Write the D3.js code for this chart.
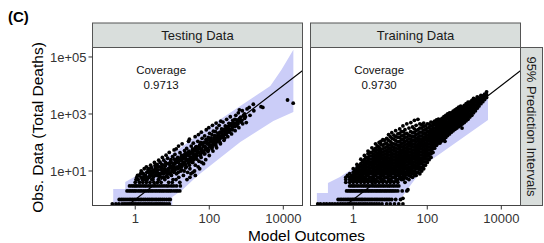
<!DOCTYPE html>
<html>
<head>
<meta charset="utf-8">
<script src="https://cdn.jsdelivr.net/npm/d3@7"></script>
<style>
body { margin: 0; background: #fff; }
svg { font-family: "Liberation Sans", Arial, sans-serif; }
</style>
</head>
<body>
<svg width="544" height="243"></svg>
<script>
// Panels and labels
var panels = ["Testing Data", "Training Data"];
var coverage = ["0.9713", "0.9730"];
var xTicks = [1, 100, 10000];
var xTickLabels = ["1", "100", "10000"];
var yTicks = [10, 1000, 100000];
var yTickLabels = ["1e+01", "1e+03", "1e+05"];

// Testing data: [model, observed]
var testCloud = [
[1,4],[1.1,6],
[1.3,4],[1.2,5],[1.4,8],
[1.6,4],[1.7,6],[1.5,9],[1.8,5],
[2,4],[2.1,5],[1.9,7],[2.2,11],[2,14],
[2.5,4],[2.4,6],[2.7,8],[2.3,12],[2.6,16],[2.8,5],
[3.2,4],[3,5],[3.4,7],[3.1,9],[3.5,14],[3.3,20],
[4,4],[4.2,5],[3.8,7],[4.4,8],[4.1,11],[3.9,17],[4.3,24],
[5,4],[5.3,6],[4.8,8],[5.5,10],[5.1,13],[4.7,20],[5.4,30],
[6.3,5],[6,6],[6.7,9],[6.1,12],[6.5,15],[5.9,24],[6.8,36],
[8,4],[7.6,6],[8.4,8],[7.8,10],[8.6,13],[8.1,18],[7.5,28],[8.3,45],
[10,4],[10.5,5],[9.5,7],[11,9],[9.8,12],[10.7,15],[9.3,20],[10.2,32],[11.2,55],
[12.6,5],[13,8],[12,11],[13.5,14],[12.3,19],[13.2,25],[11.8,38],[12.8,60],
[16,4],[15,6],[17,10],[15.5,13],[16.5,17],[15.2,22],[17.3,30],[16.2,44],[14.8,75],
[20,7],[21,10],[19,16],[22,21],[19.5,28],[20.5,36],[21.5,52],[18.5,90],
[25,5],[26,9],[24,14],[27,19],[25.5,25],[23.5,33],[26.5,45],[24.5,62],[27.5,110],
[32,8],[30,12],[34,20],[31,24],[33,30],[30.5,40],[35,55],[32.5,75],[29,130],
[40,10],[42,16],[38,25],[41,30],[44,38],[39,50],[43,68],[37,95],[41.5,160],
[50,14],[53,22],[47,35],[52,46],[48,60],[55,80],[49,110],[51,190],
[63,20],[60,30],[66,45],[62,58],[68,75],[59,100],[64,140],[61,230],
[80,25],[76,40],[84,55],[78,70],[86,95],[81,125],[75,170],[83,280],
[100,35],[95,55],[105,70],[98,90],[108,115],[94,150],[102,210],[97,330],
[126,50],[120,70],[132,85],[124,110],[135,145],[118,190],[129,250],[122,400],
[158,65],[150,90],[165,110],[155,140],[170,180],[148,240],[160,320],[153,480],
[200,90],[190,130],[210,170],[195,230],[215,300],[185,400],[205,560],
[250,120],[240,170],[265,220],[245,290],[270,380],[235,520],
[316,160],[300,220],[330,280],[310,360],[340,470],[295,650],
[400,200],[380,280],[420,350],[390,460],[430,600],[370,800],
[500,260],[480,360],[530,480],[490,650],[520,900],
[630,330],[600,450],[660,700],[610,1100],[650,1400],
[800,450],[760,600],[840,900],[780,1300],
[1000,500],[950,800],[1050,1500],
[1260,900],[1200,1700],
[1600,1300],[1550,2200],
[2500,1800],[2800,1700],
[13000,3100],[18500,2400],
[42,7],[36,9],[30,6],[55,12],[70,18]
];
// denser core of the testing cloud
var testCore = [
[1.15,5],[1.45,6],[1.75,7],[2.3,9],[2.9,10],[3.6,12],[4.5,14],[5.7,16],[7.1,18],[9,22],[11.3,26],[14.2,30],
[17.9,35],[22.5,42],[28.3,50],[35.6,60],[44.8,72],[56.4,85],[71,100],[89,120],[112,145],[141,175],[178,210],
[224,260],[282,320],[355,400],[447,500],[562,620],[708,780],[891,1000],
[1.15,7],[1.45,10],[1.75,12],[2.3,6],[2.9,7],[3.6,9],[4.5,6],[5.7,9],[7.1,11],[9,14],[11.3,17],[14.2,20],
[17.9,24],[22.5,28],[28.3,34],[35.6,42],[44.8,52],[56.4,62],[71,75],[89,90],[112,105],[141,130],[178,160],
[224,200],[282,250],[355,300],[447,380],[562,450],
[5.7,6],[7.1,7],[9,8],[11.3,10],[14.2,12],[17.9,14],[22.5,17],[28.3,21],[35.6,27],[44.8,33],[56.4,40],
[71,50],[89,62],[112,78],[141,100],[178,125],[224,150],[282,190],
[1.05,5],[1.25,7],[1.55,5],[1.65,8],[1.95,6],[2.05,9],[2.45,7],[2.55,10],[2.75,13],[3.05,6],[3.25,11],[3.45,16],
[3.7,8],[3.9,10],[4.1,14],[4.6,7],[4.9,11],[5.2,17],[5.8,8],[6.2,10],[6.6,20],[7.3,9],[7.9,12],[8.8,16],[9.2,25],
[9.7,10],[10.8,18],[11.5,13],[12.2,22],[13.8,28],[14.5,9],[15.8,16],[16.8,25],[18,11],[19.5,20],[21,30],[23,13],
[24.5,24],[26,38],[29,16],[31,28],[33,45],[36,20],[39,35],[42,58],[46,26],[49,45],[54,70],[58,35],[62,50],[67,90],
[73,40],[78,60],[85,110],[92,48],[100,80],[110,130],[118,60],[128,95],[138,160],[152,75],[162,120],[175,210],
[195,100],[210,150],[230,260],[260,140],[280,200],[300,330],[350,230],[420,280],[460,420],[560,380],[620,560],
[720,520],[900,700]
];
// rows of low observed counts (model values)
var testRow3 = [0.7,0.8,0.9,1,1.1,1.25,1.4,1.6,1.8,2,2.3,2.6,3,3.4,3.9,4.5,5.2,6,7,8,9.5,11,13,16.5];
var testRow2 = [0.6,0.68,0.76,0.85,0.95,1.05,1.2,1.35,1.5,1.7,1.9,2.15,2.4,2.7,3,3.4,3.8,4.3,4.8,5.4,6,6.8,7.6,8.5,9.5,11,12.5,14,16];
var testRow1 = [0.37,0.42,0.47,0.53,0.6,0.68,0.76,0.85,0.95,1.05,1.2,1.35,1.5,1.7,1.9,2.15,2.4,2.7,3,3.4,3.8,4.3,4.8,5.4,6.1,7,8,8.8];
var testRow0 = [0.24,0.3,0.36,0.44,0.5,0.56,0.63,0.7,0.8,0.9,1,1.12,1.25,1.4,1.6,1.8,2,2.25,2.5,2.8,3.2,3.6,4,4.5,5,5.6,6.3,7.2,8.3];

// Training data: [model, [observed...]]
var trainCols = [
[0.63,[4,5,6]],
[0.8,[4,5,6,8]],
[1,[4,5,6,7,9,12]],
[1.26,[4,5,6,8,10,13,17]],
[1.6,[4,5,6,7,9,11,14,18,26]],
[2,[4,5,6,8,10,12,15,19,25,35]],
[2.5,[4,5,7,9,11,14,18,23,30,40,50]],
[3.2,[4,5,6,8,10,13,16,20,26,34,45,65]],
[4,[4,5,7,9,11,14,18,23,29,37,48,62,90]],
[5,[4,6,8,10,12,15,19,24,31,40,52,68,100]],
[6.3,[4,5,7,9,11,14,17,22,28,36,46,60,80,125]],
[8,[4,6,8,10,13,16,20,25,32,41,53,70,95,140]],
[10,[4,5,7,9,11,14,18,23,29,37,48,62,82,110,160]],
[12.6,[4,6,8,10,12,15,19,24,31,40,52,68,90,130,180]],
[16,[4,5,7,9,11,14,17,22,28,36,46,60,78,105,150,200]],
[20,[5,6,8,10,13,16,20,25,32,41,53,70,92,125,170,240]],
[25,[4,6,7,9,12,15,19,24,30,38,49,63,82,110,150,200,280]],
[32,[5,7,9,11,14,18,23,29,37,47,60,78,100,135,180,320]],
[40,[6,8,10,13,16,20,26,33,42,54,70,90,120,160,220,350]],
[50,[7,9,12,15,19,24,30,38,48,62,80,105,140,190,260,400]],
[63,[8,11,14,18,23,29,37,47,60,77,100,130,170,230,320,450]],
[80,[12,16,21,27,34,43,55,70,90,115,150,200,270,370,480]],
[100,[20,26,33,42,53,67,85,110,140,180,240,320,450]],
[126,[30,40,52,66,84,105,135,175,225,290,380,520]],
[158,[63,80,100,125,160,200,250,320,420,560]],
[200,[96,120,150,185,230,290,360,450,560,660]],
[250,[115,145,180,225,280,350,440,550,700]],
[316,[150,190,240,300,370,460,580,730,900]],
[400,[200,250,310,390,490,610,760,950,1100]],
[500,[260,320,400,500,630,790,1000,1250]],
[630,[320,400,500,630,800,1000,1250,1550]],
[800,[400,500,630,800,1000,1250,1550,1900]],
[1000,[500,630,800,1000,1250,1600,2000]],
[1260,[650,820,1030,1300,1650,2100,2600]],
[1600,[900,1150,1450,1850,2350,3000]],
[2000,[1300,1650,2100,2650,3300]],
[2500,[1900,2400,3000,3700]],
[3160,[2700,3400,4300]],
[4000,[3800,4800,6000]]
];
// in-between columns of the training cloud
var trainMid = [
[0.9,[4.5,5.5,7]],
[1.12,[4.5,5.5,7,8,11]],
[1.42,[4.5,5.5,7,9,11.5,15]],
[1.8,[4.5,5.5,6.5,8,10,12.5,16,21]],
[2.24,[4.5,5.5,7,9,11,13.5,17,22,29]],
[2.8,[4.5,6,8,10,12.5,16,20,26,34,44]],
[3.55,[4.5,5.5,7,9,11.5,14.5,18,23,30,39,52]],
[4.5,[4.5,6,8,10,12.5,16,20.5,26,33,42,55,75]],
[5.6,[4.5,5.5,7,9,11,13,17,21,27,35,45,58,85]],
[7.1,[4.5,6,8,10,12,15,19,24,30,39,50,65,90]],
[8.9,[4.5,5.5,7,9,11.5,14.5,18,22.5,29,37,47,61,80,120]],
[11.2,[4.5,6,8,10,12.5,16,20,26,33,42,55,72,95,140]],
[14.1,[4.5,5.5,7,9,11.5,14.5,18.5,23.5,30,38,49,63,85,115,160]],
[17.8,[5.5,7,9,11.5,14.5,18.5,23.5,30,38,48,62,80,110,150,210]],
[22.4,[5,6.5,8,10.5,13.5,17,21.5,27,34,44,56,72,96,130,175,240]],
[28.2,[5.5,7.5,10,12.5,16,20.5,26,33,42,53,68,88,115,155,210]],
[35.5,[6.5,8.5,11,14,18,23,29,37,47,60,77,100,130,170,240]],
[44.7,[7.5,10,13,16.5,21,27,34,43,55,70,90,120,160,220,300]],
[56.2,[9,12,15.5,20,25.5,32.5,42,53,68,88,115,150,200,280]],
[70.8,[10,13.5,18,23,29,37,47,60,78,100,130,170,230,320,420]],
[89,[16,21,27,35,45,58,75,95,125,160,210,280,380]],
[112,[25,33,42,55,70,90,115,150,195,250,330,440]],
[141,[45,60,75,95,120,150,190,240,310,400,500]],
[178,[80,100,125,155,195,245,310,390,490,620]],
[224,[105,130,160,200,250,310,390,490,620]],
[282,[130,165,205,255,320,400,500,640,800]],
[355,[175,220,275,340,430,530,670,840,1000]],
[447,[230,285,355,445,560,700,880,1100]],
[562,[290,360,450,565,710,890,1120,1400]],
[708,[360,450,565,710,900,1120,1400,1750]],
[891,[450,565,710,900,1120,1400,1750]],
[1122,[580,730,920,1150,1450,1850,2300]],
[1413,[780,980,1250,1600,2000,2600]],
[1778,[1100,1400,1750,2200,2800,3500]],
[2239,[1600,2000,2500,3200,4000]],
[2818,[2300,2900,3600,4500]],
[3548,[3200,4000,5000]]
];
var trainExtra = [
[0.7,7],[1.1,10],[1.4,15],[1.8,22],[2.2,30],[2.8,45],[3.6,55],[4.5,75],[5.6,110],[7,120],
[9,190],[11,220],[14,260],[18,300],[22,380],[28,450],[36,500],[45,600],[56,650],
[870,320],[220,96],[52,14],[34,11],[47,7],[30,2.2],[22,1.1],[60,12],[140,45],[300,110]
];
var trainRow3 = [0.8,0.9,1,1.1,1.25,1.4,1.6,1.8,2,2.25,2.5,2.8,3.2,3.6,4,4.5,5,5.6,6.3,7,8,9,10,11.5,13,15,17];
var trainRow2 = [0.66,0.74,0.82,0.9,1,1.1,1.22,1.35,1.5,1.65,1.8,2,2.2,2.45,2.7,3,3.3,3.7,4.1,4.5,5,5.5,6.1,6.8,7.5,8.3,9.2,10.2,11.3,12.5,14,16,21,28];
var trainRow1 = [0.39,0.44,0.49,0.55,0.61,0.68,0.75,0.83,0.92,1,1.1,1.22,1.35,1.5,1.65,1.8,2,2.2,2.45,2.7,3,3.3,3.7,4.1,4.5,5,5.6,6.2,7,7.8,8.7,9.7,11,14,19];
var trainRow0 = [0.11,0.13,0.16,0.19,0.23,0.27,0.32,0.38,0.45,0.52,0.6,0.7,0.8,0.92,1.05,1.2,1.4,1.6,1.85,2.1,2.4,2.8,3.2,3.7,4.3,5,6,8,10,13,17,22];

// 95% prediction interval outlines [model, observed]
var testBandUpper = [[0.254,0.5],[0.254,2.33],[0.537,2.33],[0.537,4.1],[2.54,12.7],[16.4,64],[128,446],[4450,9600],[8830,34700],[18700,178000]];
var testBandLower = [[18700,1175],[5370,568],[690,104],[47,6.7],[18.6,2.15],[10,1.22],[10,0.5]];
var trainBandUpper = [[0.104,0.5],[0.104,1.69],[0.207,1.69],[0.207,3.8],[0.437,6.2],[2.07,24],[9.8,82],[143,411],[4370,6950]];
var trainBandLower = [[4370,616],[98,19.1],[28.4,2.15],[18.3,0.96],[16,0.5]];

var W = 210, H = 158;
var panelX = [92.5, 310.5], panelY = 47.5;

var x = d3.scaleLog().domain([0.07, 33000]).range([0, W]);
var y = d3.scaleLog().domain([0.616, 215000]).range([H, 0]);

function rowPts(xs, obs) {
	return xs.map(function(v) { return [v, obs]; });
}
function colPts(cols) {
	var out = [];
	cols.forEach(function(c) {
		c[1].forEach(function(o) { out.push([c[0], o]); });
	});
	return out;
}

var testPts = testCloud.concat(testCore, rowPts(testRow3, 3), rowPts(testRow2, 2), rowPts(testRow1, 1), rowPts(testRow0, 0.7));
var trainPts = colPts(trainCols).concat(colPts(trainMid), trainExtra, rowPts(trainRow3, 3), rowPts(trainRow2, 2), rowPts(trainRow1, 1), rowPts(trainRow0, 0.7));
var allPts = [testPts, trainPts];
var bands = [testBandUpper.concat(testBandLower), trainBandUpper.concat(trainBandLower)];

var line = d3.line()
	.x(function(d) { return x(d[0]); })
	.y(function(d) { return y(d[1]); });

var svg = d3.select("svg");
var defs = svg.append("defs");
defs.append("clipPath").attr("id", "clip")
	.append("rect").attr("width", W).attr("height", H);

panels.forEach(function(name, i) {
	var g = svg.append("g").attr("transform", "translate(" + panelX[i] + "," + panelY + ")");
	var inner = g.append("g").attr("clip-path", "url(#clip)");

	inner.append("path")
		.attr("d", line(bands[i]) + "Z")
		.attr("fill", "#cbcdf8");

	inner.append("path")
		.attr("d", line([[0.05, 0.05], [50000, 50000]]))
		.attr("stroke", "#000")
		.attr("stroke-width", 1.2)
		.attr("fill", "none");

	inner.selectAll("circle")
		.data(allPts[i])
		.enter()
		.append("circle")
		.attr("cx", function(d) { return x(d[0]); })
		.attr("cy", function(d) { return y(d[1]); })
		.attr("r", 1.9)
		.attr("fill", "#000");

	// coverage label
	var t = g.append("text")
		.attr("text-anchor", "middle")
		.attr("font-size", "11.5px")
		.attr("fill", "#111");
	t.append("tspan").attr("x", x(5)).attr("y", y(20000) - 3).text("Coverage");
	t.append("tspan").attr("x", x(5)).attr("y", y(20000) + 12).text(coverage[i]);

	g.append("rect")
		.attr("width", W).attr("height", H)
		.attr("fill", "none")
		.attr("stroke", "#444")
		.attr("stroke-width", 1);

	// strip
	g.append("rect")
		.attr("y", -24.5).attr("width", W).attr("height", 24.5)
		.attr("fill", "#d9dedc")
		.attr("stroke", "#555")
		.attr("stroke-width", 1);
	g.append("text")
		.attr("x", W / 2).attr("y", -12.25).attr("dy", "0.35em")
		.attr("text-anchor", "middle")
		.attr("font-size", "13px")
		.attr("fill", "#1a1a1a")
		.text(name);

	// x axis
	var xt = g.selectAll(".xt").data(xTicks).enter().append("g")
		.attr("transform", function(d) { return "translate(" + x(d) + "," + H + ")"; });
	xt.append("line").attr("y2", 4).attr("stroke", "#333");
	xt.append("text")
		.attr("y", 17.5)
		.attr("text-anchor", "middle")
		.attr("font-size", "13px")
		.attr("fill", "#333")
		.text(function(d, j) { return xTickLabels[j]; });

	if (i === 0) {
		var yt = g.selectAll(".yt").data(yTicks).enter().append("g")
			.attr("transform", function(d) { return "translate(0," + y(d) + ")"; });
		yt.append("line").attr("x2", -4).attr("stroke", "#333");
		yt.append("text")
			.attr("x", -6).attr("dy", "0.35em")
			.attr("text-anchor", "end")
			.attr("font-size", "13px")
			.attr("fill", "#333")
			.text(function(d, j) { return yTickLabels[j]; });
	}
});

// right strip
svg.append("rect")
	.attr("x", 520.5).attr("y", panelY).attr("width", 22).attr("height", H)
	.attr("fill", "#d9dedc")
	.attr("stroke", "#555")
	.attr("stroke-width", 1);
svg.append("text")
	.attr("transform", "translate(531.5," + (panelY + H / 2) + ") rotate(90)")
	.attr("dy", "0.35em")
	.attr("text-anchor", "middle")
	.attr("font-size", "13px")
	.attr("fill", "#1a1a1a")
	.text("95% Prediction Intervals");

// axis titles
svg.append("text")
	.attr("x", 306.5).attr("y", 241)
	.attr("text-anchor", "middle")
	.attr("font-size", "15.5px")
	.text("Model Outcomes");
svg.append("text")
	.attr("transform", "translate(42.5,127.5) rotate(-90)")
	.attr("text-anchor", "middle")
	.attr("font-size", "15.5px")
	.text("Obs. Data (Total Deaths)");

svg.append("text")
	.attr("x", 8).attr("y", 22)
	.attr("font-size", "15px")
	.attr("font-weight", "bold")
	.text("(C)");
</script>
</body>
</html>
